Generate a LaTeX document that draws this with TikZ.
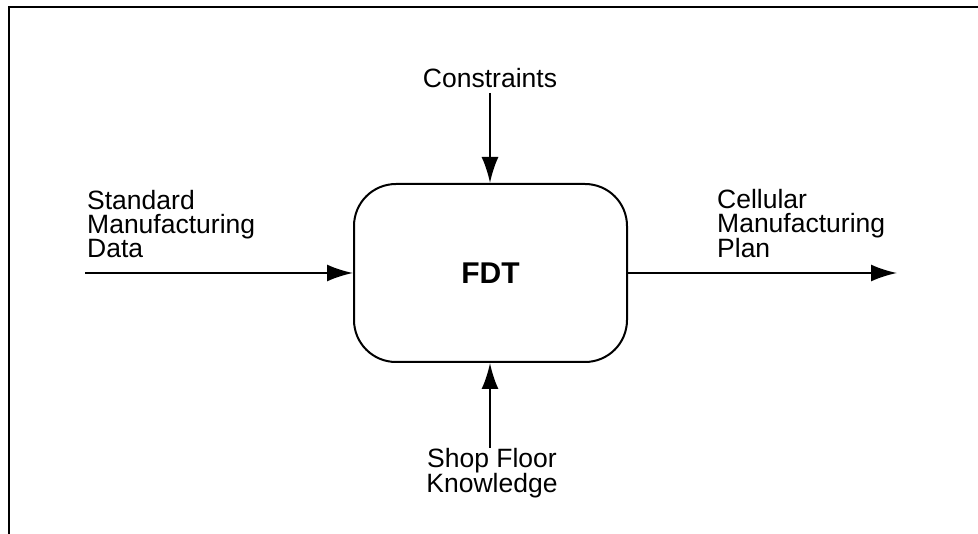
\documentclass[tikz,border=0pt]{standalone}
\usepackage{fontspec}
\setmainfont{Liberation Sans}
\usetikzlibrary{arrows.meta}
\tikzset{
  lbl/.style={inner sep=0pt, align=left, font=\fontsize{26.5}{24}\selectfont},
  clbl/.style={inner sep=0pt, align=center, font=\fontsize{26.5}{24}\selectfont},
  flow/.style={line width=2.2pt, -{Latex[length=26pt,width=17pt]}},
  procbox/.style={draw, line width=2pt, rounded corners=42pt, minimum width=273pt, minimum height=178pt, inner sep=0pt,
    font=\fontsize{30}{30}\selectfont\bfseries},
  frame/.style={line width=2.5pt}
}
\begin{document}
\begin{tikzpicture}[x=1pt,y=-1pt]
\useasboundingbox (0,0) rectangle (978,534);
\draw[frame] (9,534) -- (9,7) -- (978,7);
\node[procbox] (fdt) at (490.5,273) {FDT};
\node[clbl, anchor=base] (con) at (490,88) {Constraints};
\node[clbl, anchor=base] (shop) at (492,493) {Shop Floor\\Knowledge};
\node[lbl, anchor=base west] (smd) at (87,258) {Standard\\Manufacturing\\Data};
\node[lbl, anchor=base west] (cmp) at (717,258) {Cellular\\Manufacturing\\Plan};
\coordinate (inL) at (85,273);
\coordinate (outR) at (897,273);
\coordinate (conT) at (490,93);
\coordinate (shopB) at (490,448);
\draw[flow] (inL) -- (fdt.west |- inL);
\draw[flow] (fdt.east |- outR) -- (outR);
\draw[flow] (conT) -- (fdt.north -| conT);
\draw[flow] (shopB) -- (fdt.south -| shopB);
\end{tikzpicture}
\end{document}
